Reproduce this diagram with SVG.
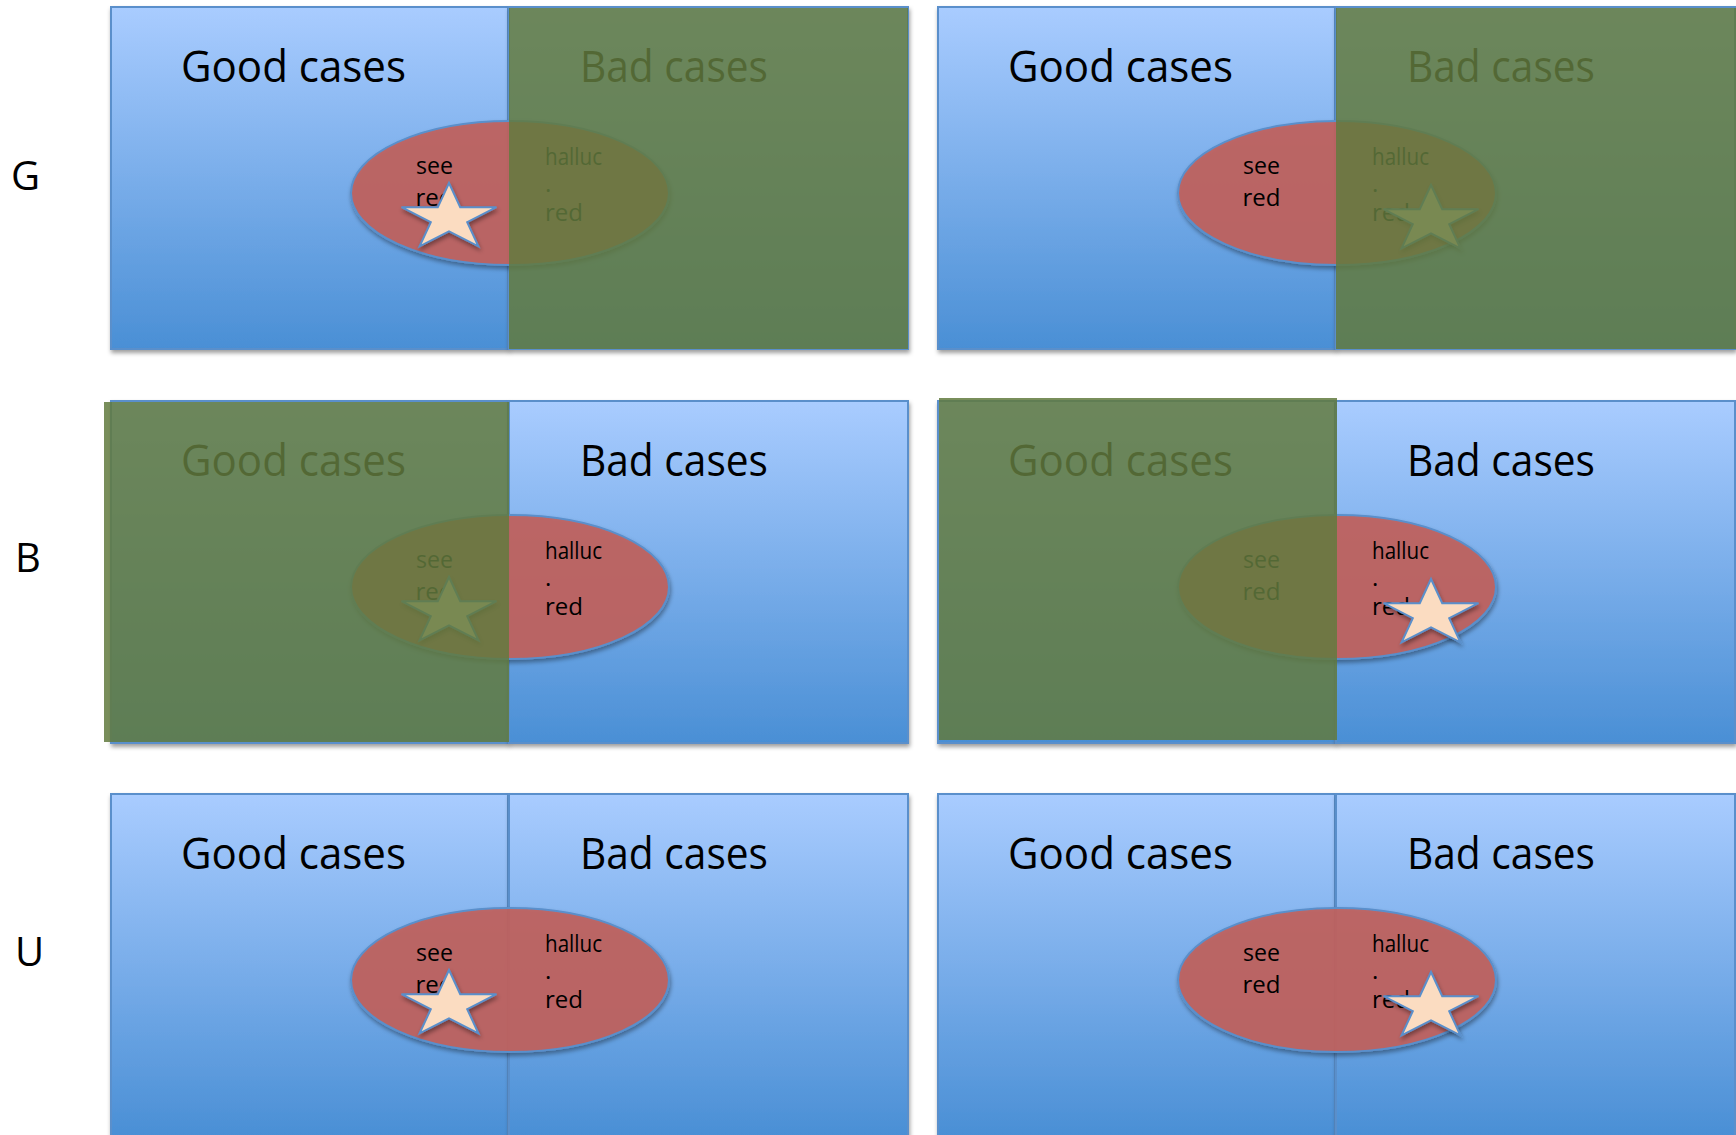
<svg xmlns="http://www.w3.org/2000/svg" width="1736" height="1135" viewBox="0 0 1736 1135">
  <defs>
    <linearGradient id="paneFill" x1="0" y1="0" x2="0" y2="1">
      <stop offset="0" stop-color="#A9CCFF"/>
      <stop offset="1" stop-color="#4A8FD5"/>
    </linearGradient>
    <filter id="shadow" x="-10%" y="-10%" width="120%" height="125%">
      <feDropShadow dx="1" dy="3" stdDeviation="2.2" flood-color="#000" flood-opacity="0.38"/>
    </filter>
    <!-- five-point star, stretched wider than tall -->
    <path id="star" d="M0,-35 L11.2,-10.8 L47.5,-10.8 L18.2,4.1 L29.4,28.3 L0,13.4 L-29.4,28.3 L-18.2,4.1 L-47.5,-10.8 L-11.2,-10.8 Z"/>
    <style>
      .pane { fill: url(#paneFill); stroke: #5A8FCB; stroke-width: 2; filter: url(#shadow); }
      .oval { fill: #C0625F; fill-opacity: 0.93; stroke: #5A8FCB; stroke-width: 2; filter: url(#shadow); }
      .star { fill: #FBDCC1; stroke: #5A8FCB; stroke-width: 2; filter: url(#shadow); }
      .veil { fill: #627A3E; fill-opacity: 0.85; }
      text { font-family: "Open Sans", "Noto Sans", "Liberation Sans", sans-serif; fill: #000; }
      .head { font-size: 44px; }
      .word { font-size: 24px; }
      .mid { text-anchor: middle; }
      .rowlabel { font-size: 40px; }
    </style>
  </defs>

  <!-- row labels -->
  <g id="labels">
    <text class="rowlabel" x="11" y="190">G</text>
    <text class="rowlabel" x="15" y="572">B</text>
    <text class="rowlabel" x="15" y="966">U</text>
  </g>

  <!-- G row, star on the good side -->
  <g id="panel-g-left">
    <rect class="pane" x="111" y="7" width="397" height="342"/>
    <rect class="pane" x="509" y="7" width="399" height="342"/>
    <ellipse class="oval" cx="510" cy="193" rx="159" ry="72"/>
    <text class="word mid" x="434.5" y="174" textLength="37" lengthAdjust="spacingAndGlyphs">see</text>
    <text class="word mid" x="434.5" y="206" textLength="38" lengthAdjust="spacingAndGlyphs">red</text>
    <text class="word" x="545" y="165" textLength="57" lengthAdjust="spacingAndGlyphs">halluc</text>
    <text class="word" x="545" y="192">.</text>
    <text class="word" x="545" y="221" textLength="38" lengthAdjust="spacingAndGlyphs">red</text>
    <use href="#star" class="star" transform="translate(449,218)"/>
    <text class="head" x="181" y="82" textLength="225" lengthAdjust="spacingAndGlyphs">Good cases</text>
    <text class="head" x="580" y="82" textLength="188" lengthAdjust="spacingAndGlyphs">Bad cases</text>
    <rect class="veil" x="509" y="8" width="399" height="341"/>
  </g>

  <!-- G row, star on the bad side -->
  <g id="panel-g-right">
    <rect class="pane" x="938" y="7" width="397" height="342"/>
    <rect class="pane" x="1336" y="7" width="399" height="342"/>
    <ellipse class="oval" cx="1337" cy="193" rx="159" ry="72"/>
    <text class="word mid" x="1261.5" y="174" textLength="37" lengthAdjust="spacingAndGlyphs">see</text>
    <text class="word mid" x="1261.5" y="206" textLength="38" lengthAdjust="spacingAndGlyphs">red</text>
    <text class="word" x="1372" y="165" textLength="57" lengthAdjust="spacingAndGlyphs">halluc</text>
    <text class="word" x="1372" y="192">.</text>
    <text class="word" x="1372" y="221" textLength="38" lengthAdjust="spacingAndGlyphs">red</text>
    <use href="#star" class="star" transform="translate(1431,220)"/>
    <text class="head" x="1008" y="82" textLength="225" lengthAdjust="spacingAndGlyphs">Good cases</text>
    <text class="head" x="1407" y="82" textLength="188" lengthAdjust="spacingAndGlyphs">Bad cases</text>
    <rect class="veil" x="1336" y="8" width="400" height="341"/>
  </g>

  <!-- B row, star on the good side -->
  <g id="panel-b-left">
    <rect class="pane" x="111" y="401" width="397" height="342"/>
    <rect class="pane" x="509" y="401" width="399" height="342"/>
    <ellipse class="oval" cx="510" cy="587" rx="159" ry="72"/>
    <text class="word mid" x="434.5" y="568" textLength="37" lengthAdjust="spacingAndGlyphs">see</text>
    <text class="word mid" x="434.5" y="600" textLength="38" lengthAdjust="spacingAndGlyphs">red</text>
    <text class="word" x="545" y="559" textLength="57" lengthAdjust="spacingAndGlyphs">halluc</text>
    <text class="word" x="545" y="586">.</text>
    <text class="word" x="545" y="615" textLength="38" lengthAdjust="spacingAndGlyphs">red</text>
    <use href="#star" class="star" transform="translate(449,612)"/>
    <text class="head" x="181" y="476" textLength="225" lengthAdjust="spacingAndGlyphs">Good cases</text>
    <text class="head" x="580" y="476" textLength="188" lengthAdjust="spacingAndGlyphs">Bad cases</text>
    <rect class="veil" x="104" y="402" width="405" height="340"/>
  </g>

  <!-- B row, star on the bad side -->
  <g id="panel-b-right">
    <rect class="pane" x="938" y="401" width="397" height="342"/>
    <rect class="pane" x="1336" y="401" width="399" height="342"/>
    <ellipse class="oval" cx="1337" cy="587" rx="159" ry="72"/>
    <text class="word mid" x="1261.5" y="568" textLength="37" lengthAdjust="spacingAndGlyphs">see</text>
    <text class="word mid" x="1261.5" y="600" textLength="38" lengthAdjust="spacingAndGlyphs">red</text>
    <text class="word" x="1372" y="559" textLength="57" lengthAdjust="spacingAndGlyphs">halluc</text>
    <text class="word" x="1372" y="586">.</text>
    <text class="word" x="1372" y="615" textLength="38" lengthAdjust="spacingAndGlyphs">red</text>
    <use href="#star" class="star" transform="translate(1431,614)"/>
    <text class="head" x="1008" y="476" textLength="225" lengthAdjust="spacingAndGlyphs">Good cases</text>
    <text class="head" x="1407" y="476" textLength="188" lengthAdjust="spacingAndGlyphs">Bad cases</text>
    <rect class="veil" x="939" y="398" width="398" height="342"/>
  </g>

  <!-- U row, star on the good side -->
  <g id="panel-u-left">
    <rect class="pane" x="111" y="794" width="397" height="342"/>
    <rect class="pane" x="509" y="794" width="399" height="342"/>
    <ellipse class="oval" cx="510" cy="980" rx="159" ry="72"/>
    <text class="word mid" x="434.5" y="961" textLength="37" lengthAdjust="spacingAndGlyphs">see</text>
    <text class="word mid" x="434.5" y="993" textLength="38" lengthAdjust="spacingAndGlyphs">red</text>
    <text class="word" x="545" y="952" textLength="57" lengthAdjust="spacingAndGlyphs">halluc</text>
    <text class="word" x="545" y="979">.</text>
    <text class="word" x="545" y="1008" textLength="38" lengthAdjust="spacingAndGlyphs">red</text>
    <use href="#star" class="star" transform="translate(449,1005)"/>
    <text class="head" x="181" y="869" textLength="225" lengthAdjust="spacingAndGlyphs">Good cases</text>
    <text class="head" x="580" y="869" textLength="188" lengthAdjust="spacingAndGlyphs">Bad cases</text>
  </g>

  <!-- U row, star on the bad side -->
  <g id="panel-u-right">
    <rect class="pane" x="938" y="794" width="397" height="342"/>
    <rect class="pane" x="1336" y="794" width="399" height="342"/>
    <ellipse class="oval" cx="1337" cy="980" rx="159" ry="72"/>
    <text class="word mid" x="1261.5" y="961" textLength="37" lengthAdjust="spacingAndGlyphs">see</text>
    <text class="word mid" x="1261.5" y="993" textLength="38" lengthAdjust="spacingAndGlyphs">red</text>
    <text class="word" x="1372" y="952" textLength="57" lengthAdjust="spacingAndGlyphs">halluc</text>
    <text class="word" x="1372" y="979">.</text>
    <text class="word" x="1372" y="1008" textLength="38" lengthAdjust="spacingAndGlyphs">red</text>
    <use href="#star" class="star" transform="translate(1431,1007)"/>
    <text class="head" x="1008" y="869" textLength="225" lengthAdjust="spacingAndGlyphs">Good cases</text>
    <text class="head" x="1407" y="869" textLength="188" lengthAdjust="spacingAndGlyphs">Bad cases</text>
  </g>
</svg>
